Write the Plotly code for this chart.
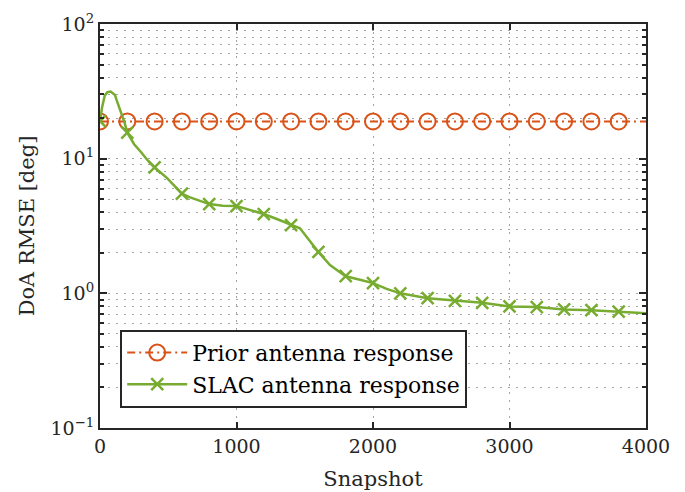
import plotly.graph_objects as go

# Prior antenna response: flat DoA RMSE over all snapshots
prior_snapshot = [0, 200, 400, 600, 800, 1000, 1200, 1400, 1600, 1800, 2000,
                  2200, 2400, 2600, 2800, 3000, 3200, 3400, 3600, 3800, 4000]
prior_rmse = [18.9] * len(prior_snapshot)

# SLAC antenna response: DoA RMSE versus snapshot
slac_snapshot = [0, 15, 35, 55, 78, 100, 110, 122, 140, 159, 180, 200, 250, 300,
                 350, 400, 490, 600, 650, 800, 900, 1000, 1100, 1200, 1300, 1400,
                 1465, 1530, 1600, 1685, 1800, 1905, 2000, 2100, 2200, 2400, 2600,
                 2800, 3000, 3200, 3400, 3600, 3800, 4000]
slac_rmse = [19.0, 24.0, 29.5, 31.2, 31.5, 30.5, 29.7, 27.2, 24.3, 21.7, 18.5, 15.6,
             12.8, 11.2, 9.7, 8.6, 7.2, 5.5, 5.2, 4.6, 4.47, 4.45, 4.15, 3.88, 3.55,
             3.21, 3.04, 2.5, 2.03, 1.62, 1.34, 1.26, 1.19, 1.08, 1.0, 0.92, 0.88,
             0.85, 0.80, 0.79, 0.76, 0.75, 0.73, 0.71]

x_ticks = [0, 1000, 2000, 3000, 4000]
y_ticks = [0.1, 1, 10, 100]
y_tick_text = ["10<sup>\u22121</sup>", "10<sup>0</sup>", "10<sup>1</sup>", "10<sup>2</sup>"]

ORANGE = "#D95319"
GREEN = "#77AC30"
AX = "#262626"
FONT = "DejaVu Serif, Liberation Serif, serif"
MARK_STEP = 200


def marker_colors(xs, color):
    # markers every MARK_STEP snapshots, none on the final point
    return [color if (x % MARK_STEP == 0 and x < xs[-1]) else "rgba(0,0,0,0)" for x in xs]


fig = go.Figure()

fig.add_trace(go.Scatter(
    x=prior_snapshot, y=prior_rmse, mode="lines+markers",
    name="Prior antenna response",
    line=dict(color=ORANGE, width=2, dash="8px,4px,2px,4px"),
    marker=dict(symbol="circle-open", size=16,
                color=marker_colors(prior_snapshot, ORANGE),
                line=dict(width=2)),
))

fig.add_trace(go.Scatter(
    x=slac_snapshot, y=slac_rmse, mode="lines+markers",
    name="SLAC antenna response",
    line=dict(color=GREEN, width=2.5),
    marker=dict(symbol="x-thin-open", size=12,
                color=marker_colors(slac_snapshot, GREEN),
                line=dict(width=2.5)),
))

grid_dash = "2px,6px"
grid_col = "#a4a4a4"

fig.update_xaxes(
    range=[0, 4000], tickvals=x_ticks,
    ticks="inside", ticklen=6, tickwidth=1.5, tickcolor=AX,
    showline=True, linewidth=2, linecolor=AX, mirror="ticks",
    showgrid=True, gridcolor=grid_col, griddash=grid_dash, gridwidth=1,
    zeroline=False, automargin=False,
    tickfont=dict(family=FONT, size=19, color=AX),
    title=dict(text="Snapshot", font=dict(family=FONT, size=21, color=AX), standoff=16),
)

fig.update_yaxes(
    type="log", range=[-1, 2], tickvals=y_ticks, ticktext=y_tick_text,
    ticks="inside", ticklen=7, tickwidth=1.5, tickcolor=AX,
    showline=True, linewidth=2, linecolor=AX, mirror="ticks",
    showgrid=True, gridcolor=grid_col, griddash=grid_dash, gridwidth=1,
    minor=dict(dtick="D1", ticks="inside", ticklen=4, tickcolor=AX,
               showgrid=True, gridcolor=grid_col, griddash=grid_dash, gridwidth=1),
    zeroline=False, automargin=False,
    tickfont=dict(family=FONT, size=19, color=AX),
    title=dict(text="DoA RMSE [deg]", font=dict(family=FONT, size=21, color=AX), standoff=10),
)

fig.update_layout(
    width=685, height=492,
    margin=dict(l=100, r=39, t=24, b=64),
    paper_bgcolor="white", plot_bgcolor="white",
    showlegend=True,
    legend=dict(
        x=0.037, y=0.05, xanchor="left", yanchor="bottom",
        bgcolor="white", bordercolor=AX, borderwidth=2,
        font=dict(family=FONT, size=22, color="black"),
        itemwidth=60, tracegroupgap=0,
    ),
)

fig.write_html("out.html")
